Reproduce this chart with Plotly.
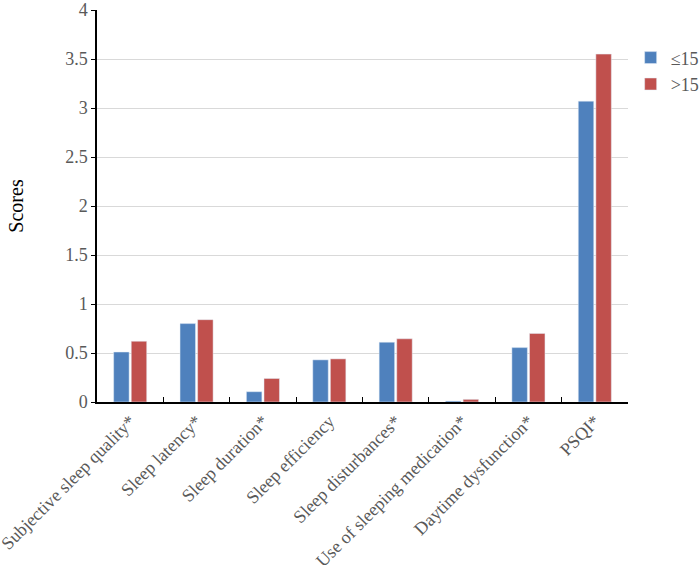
import plotly.graph_objects as go

categories = ["Subjective sleep quality*", "Sleep latency*", "Sleep duration*",
              "Sleep efficiency", "Sleep disturbances*", "Use of sleeping medication*",
              "Daytime dysfunction*", "PSQI*"]
le15 = [0.51, 0.80, 0.105, 0.43, 0.61, 0.01, 0.555, 3.07]
gt15 = [0.62, 0.84, 0.24, 0.44, 0.645, 0.027, 0.70, 3.55]
yticks = [0, 0.5, 1, 1.5, 2, 2.5, 3, 3.5, 4]
ytick_text = ["0", "0.5", "1", "1.5", "2", "2.5", "3", "3.5", "4"]

font = "Liberation Serif"
gray = "#595959"

fig = go.Figure()
fig.add_trace(go.Bar(x=categories, y=le15, name="≤15", marker_color="#4F81BD"))
fig.add_trace(go.Bar(x=categories, y=gt15, name=">15", marker_color="#C0504D"))

fig.update_layout(
    width=700, height=565,
    margin=dict(l=97, r=72, t=10, b=163, autoexpand=False),
    paper_bgcolor="white", plot_bgcolor="white",
    barmode="group", bargap=0.47, bargroupgap=0.12,
    font=dict(family=font, color=gray, size=17),
    legend=dict(x=1.005, y=0.925, xanchor="left", yanchor="top",
                font=dict(family=font, size=18, color=gray), tracegroupgap=0,
                itemwidth=30),
    showlegend=True,
)
fig.update_xaxes(
    automargin=False,
    showline=True, linecolor="black", linewidth=1.5,
    ticks="inside", tickson="boundaries", ticklen=5, tickcolor="black",
    tickangle=-45, tickfont=dict(family=font, size=18, color=gray),
    showgrid=False,
)
fig.update_yaxes(
    automargin=False,
    range=[0, 4], tickvals=yticks, ticktext=ytick_text,
    showline=True, linecolor="black", linewidth=1.5,
    ticks="outside", ticklen=4, tickcolor="black",
    showgrid=True, gridcolor="#D9D9D9", gridwidth=1,
    tickfont=dict(family=font, size=18, color=gray),
    title=dict(text="Scores", font=dict(family=font, size=20, color="black"), standoff=36),
    zeroline=False,
)
fig.write_html("out.html", config={"displayModeBar": False},
               post_script="document.body.style.margin='0';")
